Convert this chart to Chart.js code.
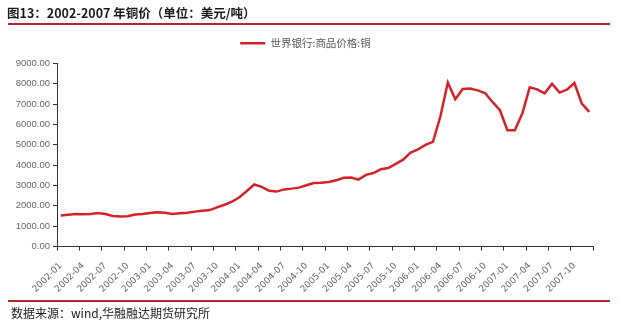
<!DOCTYPE html>
<html>
<head>
<meta charset="utf-8">
<script src="https://cdn.jsdelivr.net/npm/chart.js@4"></script>
<style>
  html, body { margin: 0; padding: 0; background: #fff; }
  #wrap { position: relative; width: 620px; height: 329px; overflow: hidden; }
  #chart { position: absolute; left: 0; top: 0; }
  .title { position: absolute; left: 7px; top: 3px; font: bold 12.5px "Noto Sans CJK SC", sans-serif; color: #1a1a1a; white-space: nowrap; }
  .rule { position: absolute; left: 8px; width: 602px; height: 2px; background: #b0282c; }
  .source { position: absolute; left: 11px; top: 304px; font: 12px "Noto Sans CJK SC", sans-serif; color: #222; white-space: nowrap; }
</style>
</head>
<body>
<div id="wrap">
  <canvas id="chart" width="620" height="329"></canvas>
  <div class="title">图13：2002-2007 年铜价（单位：美元/吨）</div>
  <div class="rule" style="top:23px"></div>
  <div class="rule" style="top:300px"></div>
  <div class="source">数据来源：wind,华融融达期货研究所</div>
</div>
<script>
// monthly categories 2002-01 .. 2007-12
const months = [
  '2002-01','2002-02','2002-03','2002-04','2002-05','2002-06','2002-07','2002-08','2002-09','2002-10','2002-11','2002-12',
  '2003-01','2003-02','2003-03','2003-04','2003-05','2003-06','2003-07','2003-08','2003-09','2003-10','2003-11','2003-12',
  '2004-01','2004-02','2004-03','2004-04','2004-05','2004-06','2004-07','2004-08','2004-09','2004-10','2004-11','2004-12',
  '2005-01','2005-02','2005-03','2005-04','2005-05','2005-06','2005-07','2005-08','2005-09','2005-10','2005-11','2005-12',
  '2006-01','2006-02','2006-03','2006-04','2006-05','2006-06','2006-07','2006-08','2006-09','2006-10','2006-11','2006-12',
  '2007-01','2007-02','2007-03','2007-04','2007-05','2007-06','2007-07','2007-08','2007-09','2007-10','2007-11','2007-12'
];

// copper price, USD/ton
const copper = [
  1520, 1562, 1600, 1590, 1597, 1650, 1600, 1500, 1480, 1484, 1573, 1595,
  1648, 1683, 1660, 1600, 1640, 1660, 1715, 1760, 1790, 1921, 2055, 2201,
  2424, 2728, 3050, 2935, 2736, 2700, 2808, 2846, 2895, 3010, 3120, 3140,
  3170, 3254, 3380, 3394, 3290, 3524, 3615, 3797, 3857, 4060, 4270, 4620,
  4780, 5000, 5147, 6391, 8070, 7240, 7745, 7765, 7680, 7550, 7110, 6700,
  5720, 5720, 6540, 7830, 7730, 7535, 8010, 7570, 7715, 8040, 7030, 6620
];

const seriesName = '世界银行:商品价格:铜';
const yTicks = [0, 1000, 2000, 3000, 4000, 5000, 6000, 7000, 8000, 9000];

const axisColor = '#333333';
const lineColor = '#d2232a';

// small nudges to the legend: a gap under it and a shift to the right
const legendTweak = {
  id: 'legendTweak',
  afterInit(chart) {
    const lg = chart.legend;
    if (!lg) return;
    const fit = lg.fit;
    lg.fit = function() { fit.call(this); this.height += 5; };
  },
  afterLayout(chart) {
    const lg = chart.legend;
    if (!lg) return;
    lg.left += 9;
    lg.right += 9;
  }
};

const config = {
  type: 'line',
  data: {
    labels: months,
    datasets: [{
      label: seriesName,
      data: copper,
      borderColor: lineColor,
      backgroundColor: lineColor,
      borderWidth: 2.5,
      pointRadius: 0,
      pointStyle: 'line',
      tension: 0
    }]
  },
  options: {
    responsive: false,
    animation: false,
    layout: { padding: { left: 0, right: 27, top: 28, bottom: 35 } },
    plugins: {
      legend: {
        position: 'top',
        labels: {
          usePointStyle: true,
          pointStyle: 'line',
          pointStyleWidth: 25,
          boxHeight: 6,
          padding: 10,
          color: '#595959',
          font: { size: 10.5, family: '"Noto Sans CJK SC", sans-serif' }
        }
      },
      tooltip: { enabled: false }
    },
    scales: {
      x: {
        offset: true,
        grid: {
          offset: true,
          drawOnChartArea: false,
          tickLength: 4,
          color: ctx => (ctx.index === undefined || ctx.index % 3 === 0) ? axisColor : 'rgba(0,0,0,0)'
        },
        border: { color: axisColor, width: 1 },
        ticks: {
          autoSkip: false,
          minRotation: 45,
          maxRotation: 45,
          padding: 10,
          color: '#666',
          font: { size: 9, family: '"DejaVu Sans", sans-serif' },
          callback: (v, i) => (i % 3 === 0 ? months[i] : '')
        },
        afterFit: scale => { scale.height = 329 - 246.5 - 35; }
      },
      y: {
        min: 0,
        max: 9000,
        afterBuildTicks: scale => { scale.ticks = yTicks.map(v => ({ value: v })); },
        grid: { drawOnChartArea: false, tickLength: 4, color: axisColor },
        border: { color: axisColor, width: 1 },
        ticks: {
          padding: 3,
          color: '#666',
          font: { size: 9.5, family: '"Liberation Sans", sans-serif' },
          callback: v => Number(v).toFixed(2)
        },
        afterFit: scale => { scale.width = 57; }
      }
    }
  },
  plugins: [legendTweak]
};

window.onload = function() {
  var ctx = document.getElementById('chart').getContext('2d');
  window.copperChart = new Chart(ctx, config);
};
</script>
</body>
</html>
